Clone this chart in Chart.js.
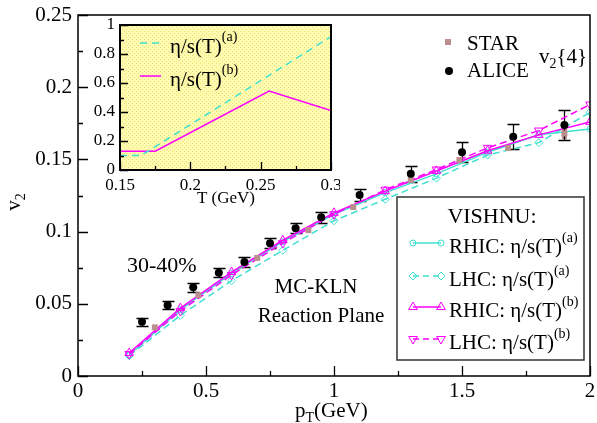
<!DOCTYPE html>
<html>
<head>
<meta charset="utf-8">
<script src="https://cdn.jsdelivr.net/npm/chart.js@4.4.1/dist/chart.umd.min.js"></script>
<style>
  body { margin: 0; background: #fff; }
  #wrap { position: relative; width: 597px; height: 423px; }
  canvas { position: absolute; }
</style>
</head>
<body>
<div id="wrap">
  <canvas id="main" width="597" height="423" style="left:0;top:0;width:597px;height:423px"></canvas>
  <canvas id="inset" width="260" height="200" style="left:80px;top:15px;width:260px;height:200px"></canvas>
</div>
<script>
// model curves (VISHNU), pT in GeV
var ptModel = [0.2, 0.4, 0.6, 0.8, 1.0, 1.2, 1.4, 1.6, 1.8, 2.0];
var rhicA = [0.0145, 0.046, 0.071, 0.093, 0.112, 0.127, 0.140, 0.155, 0.167, 0.171];
var lhcA  = [0.0140, 0.042, 0.066, 0.087, 0.1075, 0.1224, 0.137, 0.153, 0.1616, 0.1826];
var rhicB = [0.0159, 0.047, 0.072, 0.094, 0.113, 0.128, 0.142, 0.156, 0.167, 0.176];
var lhcB  = [0.0152, 0.045, 0.070, 0.092, 0.112, 0.129, 0.143, 0.158, 0.170, 0.188];

// ALICE v2{4}
var alicePt  = [0.25, 0.35, 0.45, 0.55, 0.65, 0.75, 0.85, 0.95, 1.1, 1.3, 1.5, 1.7, 1.9];
var aliceV2  = [0.0376, 0.049, 0.0614, 0.0715, 0.079, 0.0919, 0.1023, 0.110, 0.1253, 0.140, 0.155, 0.1657, 0.1738];
var aliceErr = [0.0028, 0.0028, 0.003, 0.003, 0.0032, 0.0034, 0.0036, 0.0038, 0.0042, 0.0055, 0.007, 0.0087, 0.0105];

// STAR v2{4}
var starPt  = [0.3, 0.47, 0.7, 0.9, 1.075, 1.3, 1.49, 1.68, 1.9];
var starV2  = [0.0337, 0.056, 0.0818, 0.101, 0.117, 0.1357, 0.1496, 0.158, 0.168];
var starErr = [0.0005, 0.0005, 0.0007, 0.001, 0.0012, 0.0015, 0.002, 0.0022, 0.004];

// inset: eta/s(T)
var tA = [0.15, 0.165, 0.3];
var etaA = [0.1, 0.1, 0.92];
var tB = [0.15, 0.175, 0.256, 0.3];
var etaB = [0.13, 0.13, 0.545, 0.41];

var CYAN = '#40e0d0';
var MAG = '#ff00ff';
var BROWN = '#bc8f8f';
var FAMILY = "'Liberation Serif', 'DejaVu Serif', serif";

Chart.defaults.font.family = FAMILY;
Chart.defaults.color = '#000';

function pts(xs, ys) {
  return xs.map(function (x, i) { return { x: x, y: ys[i] }; });
}
function fmt(v) { return String(+v.toFixed(3)); }

// text with sub/superscripts: parts = [[text, size, dy], ...]
function rich(ctx, x, y, parts, align) {
  var w = 0;
  parts.forEach(function (p) {
    ctx.font = p[1] + 'px ' + FAMILY;
    w += ctx.measureText(p[0]).width;
  });
  var cx = align === 'center' ? x - w / 2 : x;
  ctx.textAlign = 'left';
  ctx.textBaseline = 'alphabetic';
  parts.forEach(function (p) {
    ctx.font = p[1] + 'px ' + FAMILY;
    ctx.fillText(p[0], cx, y + (p[2] || 0));
    cx += ctx.measureText(p[0]).width;
  });
}

function marker(ctx, style, x, y, r, color) {
  ctx.save();
  ctx.strokeStyle = color;
  ctx.lineWidth = 1;
  ctx.setLineDash([]);
  ctx.beginPath();
  if (style === 'circle') {
    ctx.arc(x, y, r, 0, Math.PI * 2);
  } else if (style === 'diamond') {
    ctx.moveTo(x, y - r); ctx.lineTo(x + r, y); ctx.lineTo(x, y + r); ctx.lineTo(x - r, y); ctx.closePath();
  } else if (style === 'up') {
    ctx.moveTo(x, y - r); ctx.lineTo(x + r * 0.87, y + r * 0.5); ctx.lineTo(x - r * 0.87, y + r * 0.5); ctx.closePath();
  } else if (style === 'down') {
    ctx.moveTo(x, y + r); ctx.lineTo(x + r * 0.87, y - r * 0.5); ctx.lineTo(x - r * 0.87, y - r * 0.5); ctx.closePath();
  }
  ctx.stroke();
  ctx.restore();
}

function squeeze(w, h) {
  return function (scale) {
    if (w) scale.width = w;
    if (h) scale.height = h;
    scale.paddingLeft = 0; scale.paddingRight = 0;
    scale.paddingTop = 0; scale.paddingBottom = 0;
  };
}

// inward tick marks on left and bottom edges
function drawTicks(ctx, xs, ys, xStep, yStep, majX, majY, lenMaj, lenMin, area) {
  ctx.save();
  ctx.strokeStyle = '#000';
  ctx.lineWidth = 1.3;
  ctx.beginPath();
  var v, p;
  for (v = xs.min; v <= xs.max + 1e-9; v += xStep) {
    p = Math.round(xs.getPixelForValue(v)) + 0.5;
    var mx = Math.abs(v / majX - Math.round(v / majX)) < 1e-6;
    ctx.moveTo(p, area.bottom); ctx.lineTo(p, area.bottom - (mx ? lenMaj : lenMin));
  }
  for (v = ys.min; v <= ys.max + 1e-9; v += yStep) {
    p = Math.round(ys.getPixelForValue(v)) + 0.5;
    var my = Math.abs(v / majY - Math.round(v / majY)) < 1e-6;
    ctx.moveTo(area.left, p); ctx.lineTo(area.left + (my ? lenMaj : lenMin), p);
  }
  ctx.stroke();
  ctx.restore();
}

// tick labels from the scales' own ticks, in the serif face
function drawTickLabels(ctx, xs, ys, size, yGap, xBase) {
  var a = xs.chart.chartArea;
  ctx.save();
  ctx.fillStyle = '#000';
  ctx.font = size + 'px ' + FAMILY;
  ctx.textAlign = 'right';
  ctx.textBaseline = 'middle';
  ys.ticks.forEach(function (t) {
    ctx.fillText(fmt(t.value), a.left - yGap, ys.getPixelForValue(t.value));
  });
  ctx.textAlign = 'center';
  ctx.textBaseline = 'alphabetic';
  xs.ticks.forEach(function (t) {
    ctx.fillText(fmt(t.value), xs.getPixelForValue(t.value), a.bottom + xBase);
  });
  ctx.restore();
}

var mainPlugin = {
  id: 'mainDecor',
  beforeDatasetsDraw: function (chart) {
    var ctx = chart.ctx, xs = chart.scales.x, ys = chart.scales.y;
    ctx.save();
    // STAR errors (short brown bars)
    ctx.fillStyle = BROWN;
    starPt.forEach(function (x, i) {
      var px = xs.getPixelForValue(x);
      var y1 = ys.getPixelForValue(starV2[i] + starErr[i]);
      var y2 = ys.getPixelForValue(starV2[i] - starErr[i]);
      ctx.fillRect(px - 2.5, y1, 5, y2 - y1);
    });
    // ALICE error bars
    ctx.strokeStyle = '#000';
    ctx.lineWidth = 1.3;
    ctx.beginPath();
    alicePt.forEach(function (x, i) {
      var px = Math.round(xs.getPixelForValue(x)) + 0.5;
      var y1 = Math.round(ys.getPixelForValue(aliceV2[i] + aliceErr[i])) + 0.5;
      var y2 = Math.round(ys.getPixelForValue(aliceV2[i] - aliceErr[i])) + 0.5;
      ctx.moveTo(px, y1); ctx.lineTo(px, y2);
      ctx.moveTo(px - 6, y1); ctx.lineTo(px + 6, y1);
      ctx.moveTo(px - 6, y2); ctx.lineTo(px + 6, y2);
    });
    ctx.stroke();
    ctx.restore();
  },
  afterDraw: function (chart) {
    var ctx = chart.ctx, a = chart.chartArea;
    var xs = chart.scales.x, ys = chart.scales.y;
    drawTicks(ctx, xs, ys, 0.25, 0.025, 0.5, 0.05, 10, 5, a);
    drawTickLabels(ctx, xs, ys, 21, 6, 21);
    ctx.save();
    ctx.strokeStyle = '#000';
    ctx.lineWidth = 1.5;
    ctx.strokeRect(a.left, a.top, a.right - a.left, a.bottom - a.top);
    ctx.fillStyle = '#000';

    // axis titles
    rich(ctx, 295, 417, [['p', 21, 0], ['T', 14, 5], ['(GeV)', 21, 0]], 'left');
    ctx.save();
    ctx.translate(20, 202);
    ctx.rotate(-Math.PI / 2);
    rich(ctx, 0, 0, [['v', 21, 0], ['2', 14, 5]], 'center');
    ctx.restore();

    // data legend (top right)
    ctx.fillStyle = BROWN;
    ctx.fillRect(445, 39, 6, 6);
    ctx.fillStyle = '#000';
    ctx.beginPath(); ctx.arc(449, 71, 4, 0, Math.PI * 2); ctx.fill();
    rich(ctx, 467, 50, [['STAR', 21, 0]], 'left');
    rich(ctx, 467, 77, [['ALICE', 21, 0]], 'left');
    rich(ctx, 539, 63, [['v', 21, 0], ['2', 14, 5], ['{4}', 21, 0]], 'left');

    // annotations
    rich(ctx, 127, 272, [['30-40%', 22, 0]], 'left');
    rich(ctx, 316, 293, [['MC-KLN', 21, 0]], 'center');
    rich(ctx, 321, 322, [['Reaction Plane', 21, 0]], 'center');

    // model legend box
    ctx.fillStyle = '#fff';
    ctx.fillRect(397, 197, 187, 163);
    ctx.strokeStyle = '#333';
    ctx.lineWidth = 1.5;
    ctx.strokeRect(397, 197, 187, 163);
    ctx.fillStyle = '#000';
    rich(ctx, 492, 223, [['VISHNU:', 22, 0]], 'center');
    var entries = [
      ['RHIC: ', '(a)', CYAN, [], 'circle', 3],
      ['LHC: ', '(a)', CYAN, [6, 4], 'diamond', 4],
      ['RHIC: ', '(b)', MAG, [], 'up', 5],
      ['LHC: ', '(b)', MAG, [6, 4], 'down', 5]
    ];
    var ly = [243, 276, 307, 339];
    entries.forEach(function (e, i) {
      var y = ly[i];
      ctx.save();
      ctx.strokeStyle = e[2];
      ctx.lineWidth = 1.5;
      ctx.setLineDash(e[3]);
      ctx.beginPath(); ctx.moveTo(413, y); ctx.lineTo(441, y); ctx.stroke();
      ctx.restore();
      marker(ctx, e[4], 413, y, e[5], e[2]);
      marker(ctx, e[4], 441, y, e[5], e[2]);
      ctx.fillStyle = '#000';
      rich(ctx, 449, y + 10, [[e[0] + '\u03b7/s(T)', 21, 0], [e[1], 14, -11]], 'left');
    });
    ctx.restore();
  }
};

new Chart(document.getElementById('main').getContext('2d'), {
  type: 'scatter',
  data: {
    datasets: [
      {
        label: 'ALICE',
        data: pts(alicePt, aliceV2),
        pointStyle: 'circle', pointRadius: 4,
        backgroundColor: '#000', borderColor: '#000', borderWidth: 0
      },
      {
        label: 'STAR',
        data: pts(starPt, starV2),
        pointStyle: 'rect', pointRadius: 4.2,
        backgroundColor: BROWN, borderColor: BROWN, borderWidth: 0
      },
      {
        label: 'LHC b',
        data: pts(ptModel, lhcB), showLine: true,
        borderColor: MAG, borderWidth: 1.5, borderDash: [7, 4],
        pointStyle: 'triangle', pointRotation: 180, pointRadius: 5,
        pointBorderWidth: 1, pointBackgroundColor: 'rgba(0,0,0,0)', pointBorderColor: MAG
      },
      {
        label: 'RHIC b',
        data: pts(ptModel, rhicB), showLine: true,
        borderColor: MAG, borderWidth: 1.5,
        pointStyle: 'triangle', pointRadius: 5,
        pointBorderWidth: 1, pointBackgroundColor: 'rgba(0,0,0,0)', pointBorderColor: MAG
      },
      {
        label: 'LHC a',
        data: pts(ptModel, lhcA), showLine: true,
        borderColor: CYAN, borderWidth: 1.5, borderDash: [7, 4],
        pointStyle: 'rectRot', pointRadius: 4,
        pointBorderWidth: 1, pointBackgroundColor: 'rgba(0,0,0,0)', pointBorderColor: CYAN
      },
      {
        label: 'RHIC a',
        data: pts(ptModel, rhicA), showLine: true,
        borderColor: CYAN, borderWidth: 1.5,
        pointStyle: 'circle', pointRadius: 3,
        pointBorderWidth: 1, pointBackgroundColor: 'rgba(0,0,0,0)', pointBorderColor: CYAN
      }
    ]
  },
  options: {
    responsive: false,
    devicePixelRatio: 1,
    animation: false,
    layout: { padding: { left: 0, top: 15, right: 7, bottom: 0 } },
    plugins: { legend: { display: false }, tooltip: { enabled: false } },
    scales: {
      x: {
        type: 'linear', min: 0, max: 2,
        grid: { display: false, drawTicks: false },
        border: { display: false },
        ticks: { stepSize: 0.5, display: false },
        afterFit: squeeze(0, 47)
      },
      y: {
        type: 'linear', min: 0, max: 0.25,
        grid: { display: false, drawTicks: false },
        border: { display: false },
        ticks: { stepSize: 0.05, display: false },
        afterFit: squeeze(78, 0)
      }
    }
  },
  plugins: [mainPlugin]
});

// inset
var pc = document.createElement('canvas');
pc.width = 4; pc.height = 4;
var pctx = pc.getContext('2d');
pctx.fillStyle = '#fffbb0';
pctx.fillRect(0, 0, 4, 4);
pctx.fillStyle = '#ece070';
pctx.fillRect(0, 0, 1, 1);
pctx.fillRect(2, 2, 1, 1);

var insetPlugin = {
  id: 'insetDecor',
  beforeDatasetsDraw: function (chart) {
    var ctx = chart.ctx, a = chart.chartArea;
    ctx.save();
    ctx.fillStyle = ctx.createPattern(pc, 'repeat');
    ctx.fillRect(a.left, a.top, a.right - a.left, a.bottom - a.top);
    ctx.restore();
  },
  afterDraw: function (chart) {
    var ctx = chart.ctx, a = chart.chartArea;
    drawTicks(ctx, chart.scales.x, chart.scales.y, 0.025, 0.1, 0.05, 0.2, 8, 4, a);
    drawTickLabels(ctx, chart.scales.x, chart.scales.y, 17, 5, 20);
    ctx.save();
    ctx.strokeStyle = '#000';
    ctx.lineWidth = 2;
    ctx.strokeRect(a.left, a.top, a.right - a.left, a.bottom - a.top);
    ctx.fillStyle = '#000';
    rich(ctx, 146, 188, [['T (GeV)', 17, 0]], 'center');
    // legend
    ctx.lineWidth = 1.5;
    ctx.strokeStyle = CYAN;
    ctx.setLineDash([7, 5]);
    ctx.beginPath(); ctx.moveTo(60, 28); ctx.lineTo(81, 28); ctx.stroke();
    ctx.setLineDash([]);
    ctx.strokeStyle = MAG;
    ctx.beginPath(); ctx.moveTo(60, 61); ctx.lineTo(81, 61); ctx.stroke();
    rich(ctx, 90, 38, [['\u03b7/s(T)', 21, 0], ['(a)', 14, -12]], 'left');
    rich(ctx, 90, 71, [['\u03b7/s(T)', 21, 0], ['(b)', 14, -12]], 'left');
    ctx.restore();
  }
};

new Chart(document.getElementById('inset').getContext('2d'), {
  type: 'scatter',
  data: {
    datasets: [
      {
        data: pts(tA, etaA), showLine: true, pointRadius: 0,
        borderColor: CYAN, borderWidth: 1.5, borderDash: [7, 5]
      },
      {
        data: pts(tB, etaB), showLine: true, pointRadius: 0,
        borderColor: MAG, borderWidth: 1.5
      }
    ]
  },
  options: {
    responsive: false,
    devicePixelRatio: 1,
    animation: false,
    layout: { padding: { left: 0, top: 10, right: 9, bottom: 0 } },
    plugins: { legend: { display: false }, tooltip: { enabled: false } },
    scales: {
      x: {
        type: 'linear', min: 0.15, max: 0.3,
        grid: { display: false, drawTicks: false },
        border: { display: false },
        ticks: { stepSize: 0.05, display: false },
        afterFit: squeeze(0, 45)
      },
      y: {
        type: 'linear', min: 0, max: 1,
        grid: { display: false, drawTicks: false },
        border: { display: false },
        ticks: { stepSize: 0.2, display: false },
        afterFit: squeeze(40, 0)
      }
    }
  },
  plugins: [insetPlugin]
});
</script>
</body>
</html>
